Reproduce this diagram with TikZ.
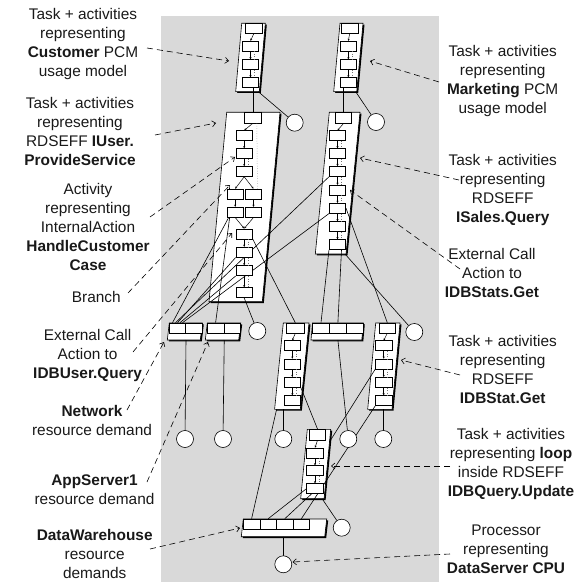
\documentclass[tikz,border=0pt]{standalone}
\usepackage{fontspec}
\setmainfont{Liberation Sans}
\usetikzlibrary{arrows.meta,calc}
\pgfdeclarelayer{bg}
\pgfdeclarelayer{lines}
\pgfsetlayers{bg,lines,main}
\tikzset{
  act/.style={draw, fill=white, rectangle, minimum width=16.5pt, minimum height=10pt, inner sep=0pt, line width=0.6pt},
  proc/.style={draw, fill=white, circle, minimum size=17pt, inner sep=0pt, line width=0.6pt},
  conn/.style={line width=0.6pt},
  inner/.style={line width=0.5pt, -{Stealth[length=2.2pt,width=2pt]}},
  reply/.style={line width=0.5pt, dotted, black!55},
  callout/.style={line width=0.6pt, dash pattern=on 6pt off 4pt, -{Straight Barb[length=3.5pt,width=6pt]}},
  lbl/.style={font=\fontsize{15.4}{19}\selectfont, align=center, inner sep=0pt, anchor=north, text=black!90},
}
\newcommand{\lqntask}[6]{%
  \coordinate (#1-tl) at (#2,#4);
  \coordinate (#1-tr) at (#3,#4);
  \coordinate (#1-br) at ({#3-#6},#5);
  \coordinate (#1-bl) at ({#2-#6},#5);
  \fill[black] ([shift={(1.5,1.3)}]#1-tl) -- ([shift={(1.5,1.3)}]#1-tr) -- ([shift={(1.5,1.3)}]#1-br) -- ([shift={(1.5,1.3)}]#1-bl) -- cycle;
  \draw[fill=white, line width=0.6pt] (#1-tl) -- (#1-tr) -- (#1-br) -- (#1-bl) -- cycle;
}
\newcommand{\actlink}[2]{\draw[inner] (#1.south) -- (#2.north); \draw[reply] ($(#1.south)+(4,0)$) -- ($(#2.north)+(4,0)$);}
\newcommand{\fwdlink}[2]{\draw[inner] (#1.south) -- (#2.north);}
\begin{document}
\begin{tikzpicture}[x=1pt,y=-1pt]
\useasboundingbox (0,0) rectangle (584,583);
\begin{pgfonlayer}{bg}
  \fill[black!15] (161,16) rectangle (439,582);
  \lqntask{cu}{241.7}{265.3}{23.3}{91.7}{6}
  \lqntask{mk}{340}{363}{23.3}{91.7}{6.3}
  \lqntask{iu}{226.7}{280}{112.3}{301.7}{17.7}
  \lqntask{is}{329.3}{360}{112.3}{254}{14}
  \lqntask{nt}{169.3}{202.3}{323}{340}{2}
  \lqntask{ap}{207.3}{240.7}{323}{340}{2}
  \lqntask{du}{283.3}{309}{323}{409.3}{8.7}
  \lqntask{tb}{312.5}{363.3}{323}{340}{1.5}
  \lqntask{ds}{375.7}{400}{323}{409.3}{8}
  \lqntask{lp}{307.3}{330.7}{429.3}{498.7}{6.6}
  \lqntask{dw}{243.3}{326.7}{519}{536.7}{2}
\end{pgfonlayer}

% activities: Customer
\node[act, minimum width=17.5pt] (cue) at (253.8,28.3) {};
\node[act] (cu1) at (250.5,46.2) {};
\node[act] (cu2) at (250.5,64.7) {};
\node[act] (cu3) at (250.5,82.7) {};
% Marketing
\node[act, minimum width=17.3pt] (mke) at (349.7,28.3) {};
\node[act] (mk1) at (348.3,46.2) {};
\node[act] (mk2) at (348.3,64.7) {};
\node[act] (mk3) at (348.3,82.7) {};
% IUser.ProvideService
\node[act, minimum width=17.7pt, minimum height=10.6pt] (iue) at (252.8,117.7) {};
\node[act] (iu1) at (244.2,135.7) {};
\node[act] (iu2) at (244.2,153.7) {};
\node[act] (iu3) at (244.2,171.5) {};
\node[act] (iu4L) at (235.2,194) {};
\node[act] (iu4R) at (253.5,194) {};
\node[act] (iu5L) at (235.2,212.2) {};
\node[act] (iu5R) at (253.5,212.2) {};
\node[act] (iu6) at (244.2,233.8) {};
\node[act] (iu7) at (244.2,252.2) {};
\node[act] (iu8) at (244.2,270.7) {};
\node[act] (iu9) at (244.2,292.7) {};
% ISales.Query
\node[act, minimum width=16pt, minimum height=10.6pt] (ise) at (343.7,117.7) {};
\node[act] (is1) at (337.5,135.7) {};
\node[act] (is2) at (337.5,153.7) {};
\node[act] (is3) at (337.5,171.5) {};
\node[act] (is4) at (337.5,190.2) {};
\node[act] (is5) at (337.5,208.3) {};
\node[act] (is6) at (337.5,226.7) {};
\node[act] (is7) at (337.5,244.7) {};
% Network, AppServer1, three-box, DataWarehouse
\node[act, minimum width=16.4pt] (nt1) at (177.5,328) {};
\node[act, minimum width=16.4pt] (nt2) at (193.9,328) {};
\node[act, minimum width=16.7pt] (ap1) at (215.6,328) {};
\node[act, minimum width=16.7pt] (ap2) at (232.3,328) {};
\node[act, minimum width=16.9pt] (tb1) at (321,328) {};
\node[act, minimum width=16.9pt] (tb2) at (337.9,328) {};
\node[act, minimum width=16.9pt] (tb3) at (354.8,328) {};
\node[act, minimum width=16.6pt] (dw1) at (251.6,524) {};
\node[act, minimum width=16.6pt] (dw2) at (268.2,524) {};
\node[act, minimum width=16.6pt] (dw3) at (284.8,524) {};
\node[act, minimum width=16.6pt] (dw4) at (301.4,524) {};
% IDBUser.Query
\node[act, minimum width=17.3pt] (due) at (295.3,328) {};
\node[act] (du1) at (292.3,345.7) {};
\node[act] (du2) at (292.3,364) {};
\node[act] (du3) at (292.3,382.3) {};
\node[act] (du4) at (292.3,400.7) {};
% IDBStat.Get
\node[act, minimum width=16.7pt] (dse) at (387.3,328) {};
\node[act] (ds1) at (383.7,345.7) {};
\node[act] (ds2) at (383.7,364) {};
\node[act] (ds3) at (383.7,382.3) {};
\node[act] (ds4) at (383.7,400.7) {};
% loop IDBQuery.Update
\node[act, minimum width=16.4pt, minimum height=10.6pt] (lpe) at (317.5,434.6) {};
\node[act] (lp1) at (315,453) {};
\node[act] (lp2) at (315,470.7) {};
\node[act] (lp3) at (315,488.7) {};

% processors
\node[proc] (ccu) at (294.7,122.7) {};
\node[proc] (cmk) at (376,122) {};
\node[proc] (ciu) at (257.3,331) {};
\node[proc] (cis) at (414.3,332) {};
\node[proc] (cnt) at (185,439) {};
\node[proc] (cap) at (223,439) {};
\node[proc] (cdu) at (283.3,439) {};
\node[proc] (ctb) at (348.3,439) {};
\node[proc] (cds) at (383.3,439) {};
\node[proc] (clp) at (341.7,527.7) {};
\node[proc] (cdw) at (283.3,564.3) {};

% internal activity links
\fwdlink{cue}{cu1} \actlink{cu1}{cu2} \actlink{cu2}{cu3}
\fwdlink{mke}{mk1} \actlink{mk1}{mk2} \actlink{mk2}{mk3}
\fwdlink{iue}{iu1} \fwdlink{iu1}{iu2} \actlink{iu2}{iu3}
\draw[reply] ($(iue.south)+(4,0)$) -- ($(iu4R.north)+(4,0)$);
\fwdlink{iu3}{iu4L} \fwdlink{iu3}{iu4R}
\fwdlink{iu4L}{iu5L} \fwdlink{iu4R}{iu5R}
\fwdlink{iu5L}{iu6} \fwdlink{iu5R}{iu6}
\actlink{iu6}{iu7} \actlink{iu7}{iu8} \actlink{iu8}{iu9}
\fwdlink{ise}{is1} \actlink{is1}{is2} \actlink{is2}{is3} \actlink{is3}{is4}
\actlink{is4}{is5} \actlink{is5}{is6} \actlink{is6}{is7}
\fwdlink{due}{du1} \actlink{du1}{du2} \actlink{du2}{du3} \actlink{du3}{du4}
\fwdlink{dse}{ds1} \actlink{ds1}{ds2} \actlink{ds2}{ds3} \actlink{ds3}{ds4}
\fwdlink{lpe}{lp1} \actlink{lp1}{lp2} \actlink{lp2}{lp3}

\coordinate (lp-r) at (329.4,442);
\begin{pgfonlayer}{lines}
  \draw[conn] (cu3.south -| iue.north) -- (iue.north);
  \draw[conn] ($(cu-br)+(-1,0)$) -- (ccu);
  \draw[conn] (mk3.south -| ise.north) -- (ise.north);
  \draw[conn] ($(mk-br)+(-1,0)$) -- (cmk);
  \draw[conn] (iu9.south) -- (ciu);
  \draw[conn] ($(is-br)+(-1,0)$) -- (cis);
  \draw[conn] (is7.south west) -- (tb1.north);
  \draw[conn] ($(is7.south)+(4,0)$) -- (tb2.north);
  \draw[conn] (is5.east) -- (dse.north);
  \draw[conn] (is3.south west) -- ($(nt1.north)+(-2,0)$);
  \draw[conn] (is5.south west) -- ($(nt1.north)+(5,0)$);
  \draw[conn] ($(iu5L.south west)+(2,0)$) -- ($(nt1.north)+(-5,0)$);
  \draw[conn] ($(iu5L.south west)+(3,0)$) -- (ap1.north);
  \draw[conn] (iu7.south west) -- (nt1.north);
  \draw[conn] (iu8.south west) -- ($(nt1.north)+(2.5,0)$);
  \draw[conn] (iu6.south east) -- (due.north);
  \draw[conn] (nt1.south east |- nt-bl) -- (cnt);
  \draw[conn] (ap1.south east |- ap-bl) -- (cap);
  \draw[conn] (du-bl -| cdu) -- (cdu);
  \draw[conn] (tb2.south |- tb-bl) -- (ctb);
  \draw[conn] (ds-bl -| cds) -- (cds);
  \draw[conn] (du3.south east) -- (lpe.north);
  \draw[conn] (ds2.south west) -- (lp-r);
  \draw[conn] (ds4.south west) -- (dw4.north);
  \draw[conn] ($(du-bl)+(2,0)$) -- (dw1.north);
  \draw[conn] (lp3.west) -- (dw2.north);
  \draw[conn] ($(lp3.south west)+(5,0)$) -- (dw3.north);
  \draw[conn] ($(lp-br)+(-2,0)$) -- (clp);
  \draw[conn] (dw-bl -| cdw) -- (cdw);
\end{pgfonlayer}

% labels
\node[lbl] (l1) at (83,8.3) {Task + activities\\representing\\\textbf{Customer} PCM\\usage model};
\node[lbl] (l2) at (80,96.7) {Task + activities\\representing\\RDSEFF \textbf{IUser.}\\\textbf{ProvideService}};
\node[lbl] (l3) at (88,182.7) {Activity\\representing\\InternalAction\\\textbf{HandleCustomer}\\\textbf{Case}};
\node[lbl] (l4) at (96.3,290.7) {Branch};
\node[lbl] (l5) at (87.6,329.3) {External Call\\Action to\\\textbf{IDBUser.Query}};
\node[lbl] (l6) at (92,405) {\textbf{Network}\\resource demand};
\node[lbl] (l7) at (94.5,475) {\textbf{AppServer1}\\resource demand};
\node[lbl] (l8) at (94.7,529.5) {\textbf{DataWarehouse}\\resource\\demands};
\node[lbl] (r1) at (502.7,45) {Task + activities\\representing\\\textbf{Marketing} PCM\\usage model};
\node[lbl] (r2) at (502.7,154.3) {Task + activities\\representing\\RDSEFF\\\textbf{ISales.Query}};
\node[lbl] (r3) at (492,248.3) {External Call\\Action to\\\textbf{IDBStats.Get}};
\node[lbl] (r4) at (502.7,335) {Task + activities\\representing\\RDSEFF\\\textbf{IDBStat.Get}};
\node[lbl] (r5) at (511,427.7) {Task + activities\\representing \textbf{loop}\\inside RDSEFF\\\textbf{IDBQuery.Update}};
\node[lbl] (r6) at (506,525) {Processor\\representing\\\textbf{DataServer CPU}};

% callout start/end points
\coordinate (s1) at (147,48);   \coordinate (e1) at (229,61);
\coordinate (s2) at (155,135);  \coordinate (e2) at (216,123);
\coordinate (s3) at (150,217);  \coordinate (e3) at (235,157);
\coordinate (s4) at (128,293);  \coordinate (e4) at (230,185);
\coordinate (s5) at (133,352);  \coordinate (e5) at (232,233);
\coordinate (s6) at (127,410);  \coordinate (e6) at (164,342);
\coordinate (s7) at (147,482);  \coordinate (e7) at (208,342);
\coordinate (s8) at (150,549);  \coordinate (e8) at (240,528);
\coordinate (s9) at (439,82);   \coordinate (e9) at (370,61);
\coordinate (s10) at (459,180); \coordinate (e10) at (360,158);
\coordinate (s11) at (460,269); \coordinate (e11) at (350,190);
\coordinate (s12) at (460,375); \coordinate (e12) at (401,360);
\coordinate (s13) at (450,466); \coordinate (e13) at (331,466);
\coordinate (s14) at (450,554); \coordinate (e14) at (292.5,562);
\begin{pgfonlayer}{lines}
  \foreach \i in {1,...,14} { \draw[callout] (s\i) -- (e\i); }
\end{pgfonlayer}
\end{tikzpicture}
\end{document}
